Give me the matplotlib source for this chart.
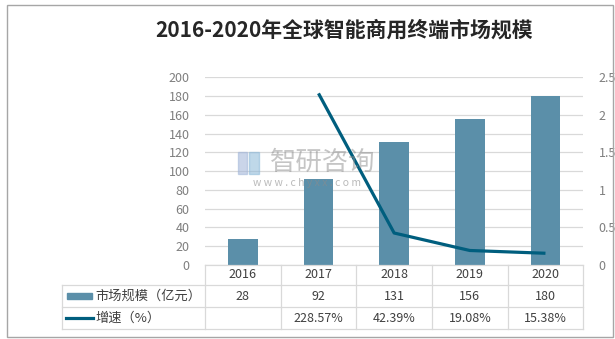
import matplotlib
matplotlib.use("Agg")
import matplotlib.pyplot as plt
from matplotlib.transforms import blended_transform_factory
from matplotlib.patches import Rectangle
from matplotlib.lines import Line2D

plt.rcParams['font.family'] = ['Noto Sans CJK SC', 'DejaVu Sans']

# Data
years = ['2016', '2017', '2018', '2019', '2020']
market_size = [28, 92, 131, 156, 180]          # 亿元
growth_pct = [None, 228.57, 42.39, 19.08, 15.38]  # %

title = '2016-2020年全球智能商用终端市场规模'
bar_label = '市场规模（亿元）'
line_label = '增速（%）'

BAR_COLOR = '#5B8FA9'
LINE_COLOR = '#005E7E'
GRID_COLOR = '#D9D9D9'
TICK_COLOR = '#7F7F7F'
TEXT_COLOR = '#404040'

W, H = 615, 339
fig = plt.figure(figsize=(W / 100, H / 100), dpi=100)


def fx(px):
    return px / W


def fy(py):
    return 1 - py / H


# outer frame
fig.patches.append(Rectangle((fx(7), fy(336.5)), fx(612.5) - fx(7), fy(5) - fy(336.5),
                             transform=fig.transFigure, fill=False,
                             edgecolor='#A6A6A6', linewidth=1.0))

fig.text(fx(344), fy(30), title, ha='center', va='center', fontsize=15,
         fontweight='bold', color='#262626')

ax_left, ax_right, ax_top, ax_bot = 205, 583.3, 77.3, 264.8
ax = fig.add_axes([fx(ax_left), fy(ax_bot), fx(ax_right) - fx(ax_left), fy(ax_top) - fy(ax_bot)])
ax2 = ax.twinx()

x = list(range(len(years)))
ax.bar(x, market_size, width=0.39, color=BAR_COLOR, zorder=2)
ax.set_xlim(-0.5, len(years) - 0.5)
ax.set_ylim(0, 200)
ax.set_yticks(range(0, 201, 20))
ax.yaxis.grid(True, color=GRID_COLOR, linewidth=0.9, zorder=0)
ax.set_axisbelow(True)
ax.set_xticks([])

gx = [xi for xi, g in zip(x, growth_pct) if g is not None]
gy = [g / 100 for g in growth_pct if g is not None]
ax2.plot(gx, gy, color=LINE_COLOR, linewidth=2.3, zorder=3, solid_capstyle='butt')
ax2.set_ylim(0, 2.5)
ax2.set_yticks([0, 0.5, 1, 1.5, 2, 2.5])
ax2.set_yticklabels(['0', '0.5', '1', '1.5', '2', '2.5'])

for a in (ax, ax2):
    for s in a.spines.values():
        s.set_visible(False)
    a.tick_params(axis='y', length=0, labelsize=9, labelcolor=TICK_COLOR)
ax.tick_params(axis='y', pad=11)
ax2.tick_params(axis='y', pad=11)

# data table under the plot
tr = blended_transform_factory(ax.transData, fig.transFigure)
y_top, y_r1, y_r2, y_bot = 265, 285, 307, 329.3
tbl_left = 62

def hline(py, x0_px):
    fig.add_artist(Line2D([fx(x0_px), fx(ax_right)], [fy(py), fy(py)],
                          transform=fig.transFigure, color=GRID_COLOR, linewidth=0.9))

hline(y_top, ax_left)
for py in (y_r1, y_r2, y_bot):
    hline(py, tbl_left)

# vertical separators between categories
for b in [xi - 0.5 for xi in x] + [x[-1] + 0.5]:
    fig.add_artist(Line2D([b, b], [fy(y_top), fy(y_bot)], transform=tr,
                          color=GRID_COLOR, linewidth=0.9))
fig.add_artist(Line2D([fx(tbl_left), fx(tbl_left)], [fy(y_r1), fy(y_bot)],
                      transform=fig.transFigure, color=GRID_COLOR, linewidth=0.9))

row_y = [(y_top + y_r1) / 2, (y_r1 + y_r2) / 2, (y_r2 + y_bot) / 2]
for xi, yr, v, g in zip(x, years, market_size, growth_pct):
    fig.text(xi, fy(row_y[0]), yr, transform=tr, ha='center', va='center',
             fontsize=9, color=TEXT_COLOR)
    fig.text(xi, fy(row_y[1]), f'{v}', transform=tr, ha='center', va='center',
             fontsize=9, color=TEXT_COLOR)
    if g is not None:
        fig.text(xi, fy(row_y[2]), f'{g:.2f}%', transform=tr, ha='center', va='center',
                 fontsize=9, color=TEXT_COLOR)

# legend keys in the first column
fig.patches.append(Rectangle((fx(67), fy(298.5)), fx(92) - fx(67), fy(292.5) - fy(298.5),
                             transform=fig.transFigure, color=BAR_COLOR))
fig.add_artist(Line2D([fx(66), fx(93)], [fy(row_y[2]), fy(row_y[2])],
                      transform=fig.transFigure, color=LINE_COLOR, linewidth=2.3))
fig.text(fx(95), fy(row_y[1]), bar_label, ha='left', va='center', fontsize=9.5, color=TEXT_COLOR)
fig.text(fx(95), fy(row_y[2]), line_label, ha='left', va='center', fontsize=9.5, color=TEXT_COLOR)

# watermark
fig.patches.append(Rectangle((fx(238), fy(174)), fx(247) - fx(238), fy(152) - fy(174),
                             transform=fig.transFigure, color='#9FB4D8', alpha=0.55, zorder=10))
fig.patches.append(Rectangle((fx(249), fy(174)), fx(259) - fx(249), fy(152) - fy(174),
                             transform=fig.transFigure, color='#8BB8D8', alpha=0.55, zorder=10))
fig.text(fx(323), fy(162), '智研咨询', ha='center', va='center', fontsize=19,
         color='#8C8C8C', alpha=0.5, zorder=10)
fig.text(fx(307), fy(183), 'w w w . c h y x x . c o m', ha='center', va='center', fontsize=7.5,
         color='#8C8C8C', alpha=0.6, zorder=10)

fig.savefig('out.png', dpi=100)
